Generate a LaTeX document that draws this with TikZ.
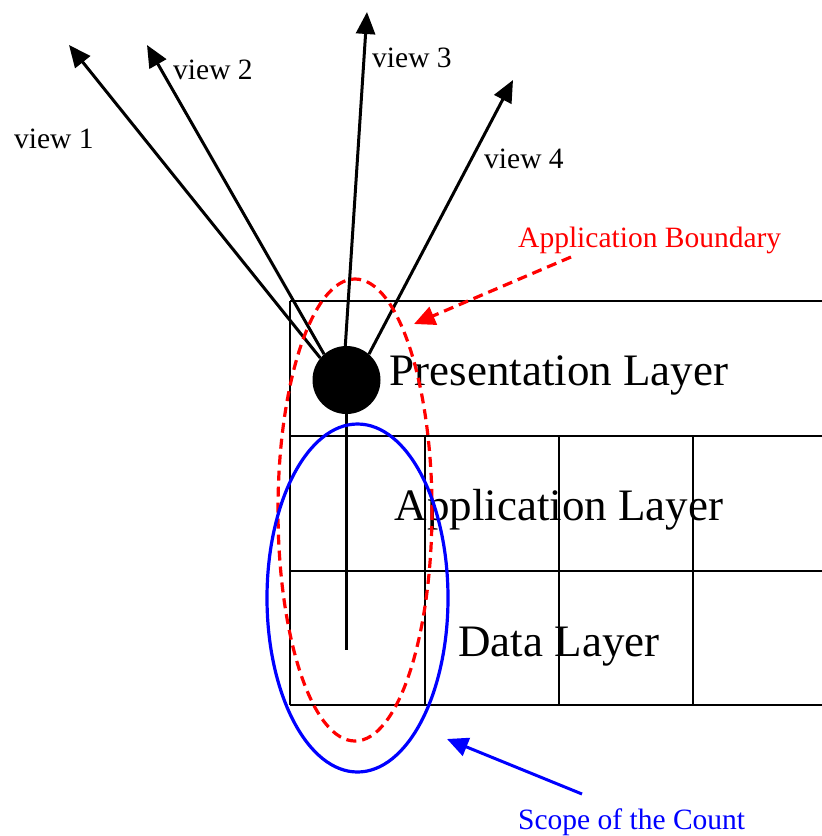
\documentclass[tikz,border=0pt]{standalone}
\usepackage{fontspec}
\setmainfont{Liberation Serif}
\usetikzlibrary{arrows.meta}

\definecolor{bred}{RGB}{255,0,0}
\definecolor{bblue}{RGB}{0,0,255}

\begin{document}
\begin{tikzpicture}[x=1pt,y=-1pt,
  gridline/.style={line width=2pt,black},
  viewarrow/.style={line width=3pt,-{Triangle[length=22pt,width=19pt]}},
  smalltext/.style={inner sep=0pt,font=\fontsize{29.5}{34}\selectfont},
  layertext/.style={inner sep=0pt,anchor=base,font=\fontsize{45}{52}\selectfont},
  boundary/.style={bred,line width=3.2pt,dash pattern=on 10pt off 6pt},
  scope/.style={bblue,line width=3.2pt},
]
\useasboundingbox (0,0) rectangle (822,836);

% layered grid
\draw[gridline,line width=1.4pt] (290,301) -- (822,301);
\draw[gridline] (290,436) -- (822,436);
\draw[gridline] (290,571) -- (822,571);
\draw[gridline] (290,705) -- (822,705);
\draw[gridline,line width=1.4pt] (290,301) -- (290,705);
\foreach \xx in {425,559,693} \draw[gridline] (\xx,436) -- (\xx,705);

\node[layertext] (pres) at (559,385) {Presentation Layer};
\node[layertext] (appl) at (559,520) {Application Layer};
\node[layertext] (data) at (559,656) {Data Layer};

% hub and its views
\node[circle,fill=black,minimum size=68pt,inner sep=0pt] (hub) at (346.5,380) {};
\coordinate (stem) at (346.5,650);
\draw[line width=3pt] (hub.center) -- (stem);

\coordinate (v1) at (69,45);
\coordinate (v2) at (147,45);
\coordinate (v3) at (367,12);
\coordinate (v4) at (513,80);
\draw[viewarrow] (hub.140) -- (v1);
\draw[viewarrow] (hub.131) -- (v2);
\draw[viewarrow] (hub.92) -- (v3);
\draw[viewarrow] (hub.49) -- (v4);

\node[smalltext,anchor=base west] (l1) at (14,148) {view 1};
\node[smalltext,anchor=base west] (l2) at (173,79) {view 2};
\node[smalltext,anchor=base west] (l3) at (372,67) {view 3};
\node[smalltext,anchor=base west] (l4) at (484,168) {view 4};

% application boundary
\draw[boundary] (355,510) ellipse [x radius=77, y radius=231];
\node[smalltext,anchor=base west,text=bred] (ab) at (518,247) {Application Boundary};
\coordinate (abtail) at (571,257);
\coordinate (abtip) at (414,324);
\draw[boundary,-{Triangle[length=21pt,width=19pt]}] (abtail) -- (abtip);

% scope of the count
\draw[scope] (357.5,598) ellipse [x radius=90.5, y radius=174];
\node[smalltext,anchor=base west,text=bblue] (sc) at (518,829) {Scope of the Count};
\coordinate (sctail) at (582,794);
\coordinate (sctip) at (447,739);
\draw[scope,line width=3pt,-{Triangle[length=21pt,width=19pt]}] (sctail) -- (sctip);
\end{tikzpicture}
\end{document}
